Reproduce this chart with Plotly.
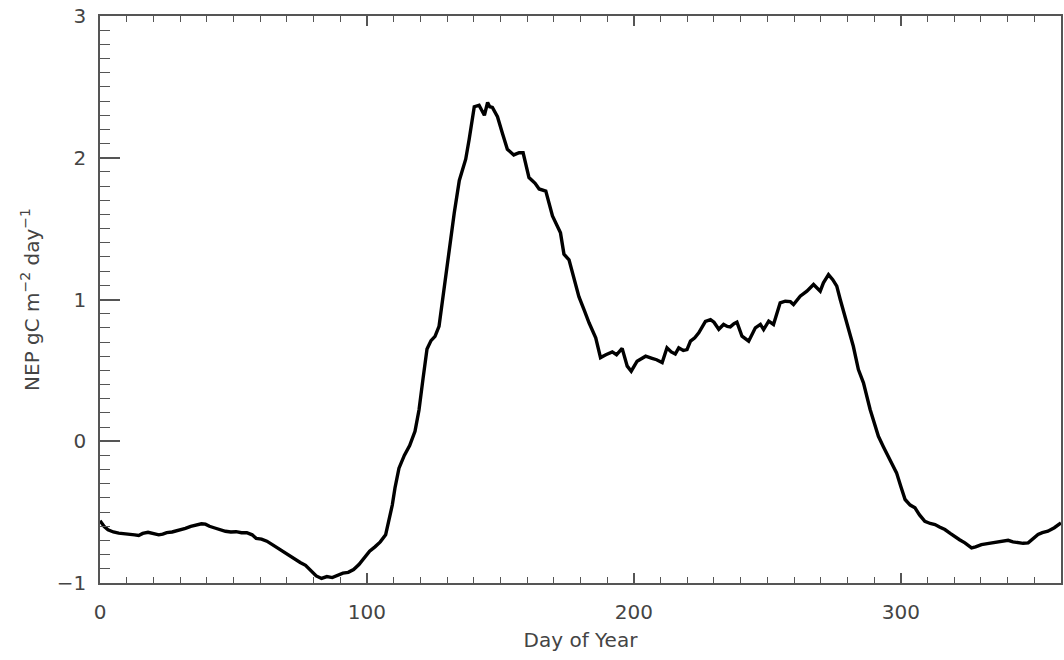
import plotly.graph_objects as go

day = [0, 1.5, 3, 5, 7, 9, 11, 13, 14.5, 16, 18, 20, 22, 23.5, 25, 27, 28.5, 30, 32, 34, 36, 38, 39.5,
       41, 43, 45, 47, 49, 51, 53, 55, 57, 58.5, 60.5, 62.5, 65, 67.5, 70, 72.5, 75, 77, 79, 81, 83,
       85, 87, 89, 91, 93, 95, 97, 99, 101, 103, 105, 107, 108.3, 109.5, 110.5, 112, 114, 116, 118,
       119.5, 121, 122.5, 124, 125.5, 127, 128, 129, 130.8, 132.7, 134.6, 137, 138.3, 140.2, 142, 143,
       144, 145.2, 146, 147, 148.9, 150.8, 152.6, 155, 157, 158.5, 160.7, 163, 164.5, 167, 169.5,
       172.5, 173.8, 175.7, 177.5, 179.4, 181.5, 183.2, 185.7, 187.5, 189.5, 191.9, 193.5, 195.6,
       197.5, 199, 201.2, 202.8, 204.4, 206.8, 208.5, 210.6, 212.4, 214, 215.5, 216.8, 218.5, 219.9,
       221.2, 222.8, 224.3, 226.8, 228.7, 230, 231.8, 233.6, 235, 236.1, 237.5, 238.6, 240.5, 243,
       245.5, 247.4, 248.6, 250.5, 252.3, 254.8, 256.7, 258.6, 259.8, 262.3, 264.8, 267.3, 269.8,
       271, 272.9, 274.5, 276, 277.3, 279.1, 280.5, 282.2, 284.1, 286, 288.5, 290.5, 291.6, 293.5,
       295.3, 297, 298.4, 300, 301.6, 303.5, 305.3, 307, 309, 311, 312.8, 314.5, 316.5, 318.5, 320.3,
       322, 324, 326.5, 328, 330.2, 333, 335.2, 337.5, 340.2, 342, 343.9, 345.8, 347.7, 349.5, 351.4,
       353, 355.1, 357.5, 360]

nep = [-0.56, -0.6, -0.625, -0.64, -0.648, -0.65, -0.655, -0.66, -0.665, -0.65, -0.642, -0.648,
       -0.66, -0.655, -0.645, -0.64, -0.632, -0.628, -0.615, -0.6, -0.592, -0.582, -0.585, -0.6,
       -0.612, -0.625, -0.635, -0.64, -0.638, -0.645, -0.645, -0.66, -0.685, -0.69, -0.705, -0.735,
       -0.765, -0.8, -0.825, -0.855, -0.875, -0.91, -0.95, -0.968, -0.955, -0.962, -0.945, -0.93,
       -0.925, -0.905, -0.87, -0.82, -0.775, -0.745, -0.71, -0.66, -0.56, -0.45, -0.33, -0.19, -0.1,
       -0.03, 0.07, 0.22, 0.44, 0.65, 0.71, 0.74, 0.81, 0.95, 1.09, 1.37, 1.61, 1.84, 1.99, 2.13,
       2.36, 2.37, 2.33, 2.30, 2.39, 2.36, 2.355, 2.29, 2.17, 2.06, 2.02, 2.035, 2.035, 1.86, 1.82,
       1.78, 1.765, 1.59, 1.47, 1.32, 1.28, 1.15, 1.02, 0.92, 0.836, 0.73, 0.59, 0.61, 0.63, 0.61,
       0.655, 0.53, 0.494, 0.565, 0.585, 0.6, 0.585, 0.575, 0.555, 0.659, 0.63, 0.615, 0.659, 0.64,
       0.647, 0.706, 0.73, 0.765, 0.845, 0.858, 0.84, 0.79, 0.824, 0.81, 0.807, 0.83, 0.84, 0.741,
       0.706, 0.8, 0.824, 0.788, 0.847, 0.824, 0.977, 0.988, 0.985, 0.965, 1.023, 1.059, 1.106,
       1.059, 1.118, 1.176, 1.14, 1.094, 1.0, 0.88, 0.78, 0.67, 0.506, 0.412, 0.224, 0.09, 0.035,
       -0.04, -0.106, -0.17, -0.223, -0.32, -0.411, -0.45, -0.47, -0.52, -0.565, -0.58, -0.588,
       -0.605, -0.623, -0.65, -0.675, -0.695, -0.717, -0.752, -0.745, -0.729, -0.72, -0.713, -0.705,
       -0.699, -0.71, -0.717, -0.72, -0.717, -0.69, -0.658, -0.645, -0.635, -0.61, -0.576]

x_ticks = [0, 100, 200, 300]
y_ticks = [-1, 0, 1, 2, 3]
y_tick_text = ["\u22121", "0", "1", "2", "3"]

axis_col = "#555555"
font = dict(family="DejaVu Sans", size=20, color="#444444")

fig = go.Figure()
fig.add_trace(go.Scatter(x=day, y=nep, mode="lines",
                         line=dict(color="black", width=3.4), showlegend=False,
                         hoverinfo="skip"))

fig.update_layout(
    width=1064, height=660,
    margin=dict(l=100, r=1, t=16, b=77),
    paper_bgcolor="white", plot_bgcolor="white",
    font=font,
    xaxis=dict(range=[0, 360], tickvals=x_ticks, ticktext=[str(v) for v in x_ticks],
               showgrid=False, zeroline=False, showline=True, linecolor=axis_col,
               linewidth=1.5, mirror="allticks", ticks="inside", ticklen=10,
               tickcolor=axis_col, tickwidth=1.5,
               minor=dict(dtick=10, ticks="inside", ticklen=6, tickcolor=axis_col,
                          tickwidth=1.2, showgrid=False),
               ticklabelstandoff=10,
               title=dict(text="Day of Year", standoff=10, font=font)),
    yaxis=dict(range=[-1, 3], tickvals=y_ticks, ticktext=y_tick_text,
               showgrid=False, zeroline=False, showline=True, linecolor=axis_col,
               linewidth=1.5, mirror=True, ticks="inside", ticklen=20,
               tickcolor=axis_col, tickwidth=1.5,
               minor=dict(dtick=0.1, ticks="inside", ticklen=10, tickcolor=axis_col,
                          tickwidth=1.2, showgrid=False),
               ticklabelstandoff=8,
               title=dict(text="NEP gC m<sup>\u22122</sup> day<sup>\u22121</sup>",
                          standoff=12, font=font)),
    yaxis2=dict(range=[-1, 3], overlaying="y", side="right", tickvals=y_ticks,
                showticklabels=False, showgrid=False, zeroline=False, showline=False,
                ticks="inside", ticklen=10, tickcolor=axis_col, tickwidth=1.5,
                minor=dict(dtick=0.1, ticks="inside", ticklen=4, tickcolor=axis_col,
                           tickwidth=1.2, showgrid=False)),
)

fig.write_html("out.html")
